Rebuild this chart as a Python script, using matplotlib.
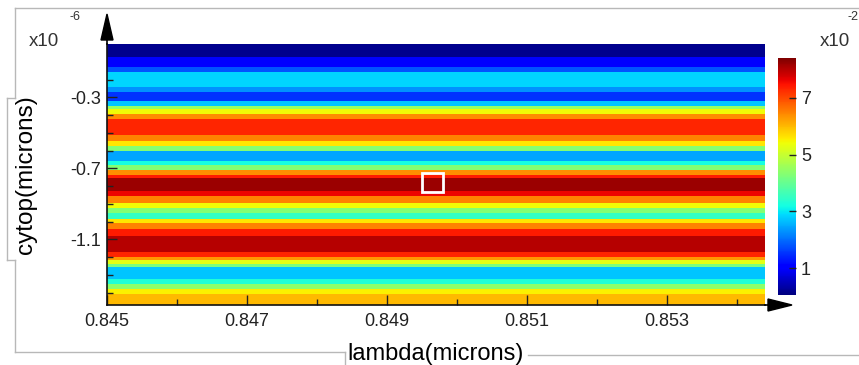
import numpy as np
import matplotlib
matplotlib.use("Agg")
import matplotlib.pyplot as plt
from matplotlib.lines import Line2D
from matplotlib.patches import Polygon, Rectangle

plt.rcParams['font.family'] = ['Liberation Sans', 'DejaVu Sans']

# lambda range (microns) and horizontal band edges of cytop (x1e-6 microns)
lambda_edges = [0.845, 0.8544]
cytop_edges = [0.0, -0.073, -0.130, -0.158, -0.243, -0.272, -0.323, -0.351,
               -0.368, -0.397, -0.425, -0.510, -0.544, -0.573, -0.601, -0.658,
               -0.681, -0.709, -0.738, -0.755, -0.828, -0.857, -0.897, -0.925,
               -0.953, -0.988, -1.010, -1.044, -1.084, -1.169, -1.198, -1.215,
               -1.238, -1.255, -1.323, -1.351, -1.380, -1.408, -1.470]
# field level of each band (x1e-2)
band_level = [0.15, 1.0, 1.8, 2.85, 2.3, 1.5, 2.7, 4.5, 5.4, 6.4, 7.3,
              6.5, 5.6, 4.3, 2.45, 3.2, 4.3, 6.4, 7.4, 8.2, 7.6, 6.5,
              5.4, 4.3, 3.5, 5.6, 6.5, 7.4, 8.0, 7.3, 6.3, 5.3, 4.2,
              2.7, 3.3, 4.4, 5.5, 6.0]

x_ticks = [0.845, 0.847, 0.849, 0.851, 0.853]
y_ticks = [-0.3, -0.7, -1.1]
cbar_ticks = [1, 3, 5, 7]

# marker square (lambda, cytop)
square = (0.8495, -0.834, 0.0003, 0.108)

W, H = 859, 365
fig = plt.figure(figsize=(W / 100, H / 100), dpi=100)


def fx(px):
    return px / W


def fy(py):
    return 1 - py / H


ax = fig.add_axes([fx(107), fy(305), fx(765) - fx(107), fy(44) - fy(305)])
C = np.array(band_level).reshape(-1, 1)
mesh = ax.pcolormesh(lambda_edges, cytop_edges, C, cmap="jet", vmin=0.05, vmax=8.4,
                     shading="flat")
ax.set_xlim(lambda_edges[0], lambda_edges[1])
ax.set_ylim(cytop_edges[-1], 0)

ax.set_xticks(x_ticks)
ax.set_xticklabels([f"{v:.3f}" for v in x_ticks])
ax.set_xticks(np.arange(0.846, 0.8545, 0.002), minor=True)
ax.set_yticks(y_ticks)
ax.set_yticklabels([f"{v:.1f}" for v in y_ticks])
ax.set_yticks(np.arange(-0.2, -1.45, -0.1), minor=True)
ax.tick_params(direction="in", labelsize=13, length=7, width=1, color="#222222",
               labelcolor="#222222")
ax.tick_params(which="minor", direction="in", length=4, width=1, color="#222222")
ax.tick_params(axis="x", pad=6)
ax.tick_params(axis="y", pad=4)
for side in ["top", "right"]:
    ax.spines[side].set_visible(False)
for side in ["left", "bottom"]:
    ax.spines[side].set_color("#111111")
    ax.spines[side].set_linewidth(1.2)

ax.add_patch(Rectangle((square[0], square[1]), square[2], square[3], fill=False,
                       edgecolor="white", linewidth=2))

ax.set_xlabel("lambda(microns)", fontsize=17, labelpad=9)
ax.set_ylabel("cytop(microns)", fontsize=17.5, labelpad=24)

# axis arrows
fig.add_artist(Line2D([fx(107), fx(107)], [fy(44), fy(30)], color="black", lw=1.2))
fig.add_artist(Polygon([[fx(107), fy(14)], [fx(101), fy(40)], [fx(113), fy(40)]],
                       closed=True, color="black", transform=fig.transFigure))
fig.add_artist(Line2D([fx(765), fx(770)], [fy(305), fy(305)], color="black", lw=1.2))
fig.add_artist(Polygon([[fx(792), fy(305)], [fx(768), fy(299)], [fx(768), fy(311)]],
                       closed=True, color="black", transform=fig.transFigure))

# colorbar
cax = fig.add_axes([fx(778), fy(295), fx(796) - fx(778), fy(58) - fy(295)])
cb = fig.colorbar(mesh, cax=cax, ticks=cbar_ticks)
cb.outline.set_visible(False)
cb.ax.tick_params(labelsize=13, length=5, width=1, color="#222222", direction="in",
                  labelcolor="#222222")

# exponent labels
fig.text(fx(29), fy(41), "x10", fontsize=13.5, color="#333333", va="center")
fig.text(fx(70), fy(17), "-6", fontsize=9, color="#333333", va="center")
fig.text(fx(820), fy(41), "x10", fontsize=13.5, color="#333333", va="center")
fig.text(fx(847), fy(17), "-2", fontsize=9, color="#333333", va="center")

# light frame around the plot
gray = "#b8b8b8"
frame = [
    ([15, 859], [8, 8]),
    ([15, 15], [8, 98]),
    ([7, 15], [98, 98]),
    ([7, 7], [98, 260]),
    ([7, 15], [260, 260]),
    ([15, 15], [260, 352]),
    ([15, 345], [352, 352]),
    ([345, 345], [352, 365]),
    ([528, 859], [355, 355]),
]
for xs, ys in frame:
    fig.add_artist(Line2D([fx(v) for v in xs], [fy(v) for v in ys], color=gray, lw=1))

fig.savefig("out.png", dpi=100)
